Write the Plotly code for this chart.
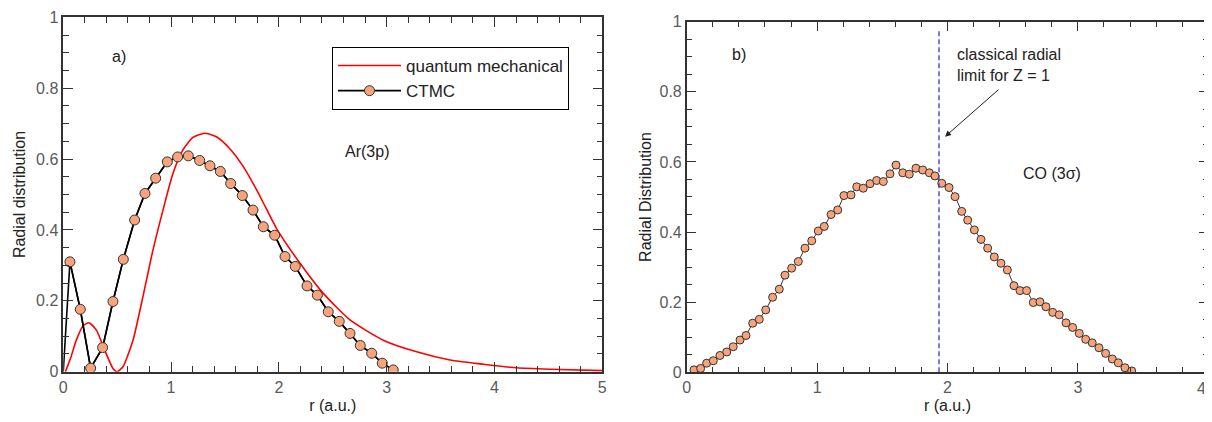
import plotly.graph_objects as go

# ---------------- data: panel a) Ar(3p) ----------------
qm_r = [0.02, 0.07, 0.121, 0.183, 0.238, 0.306, 0.384, 0.461, 0.498, 0.554, 0.647, 0.739,
        0.832, 0.925, 1.018, 1.110, 1.203, 1.312, 1.420, 1.543, 1.667, 1.790, 1.880, 1.980,
        2.196, 2.412, 2.660, 2.968, 3.278, 3.587, 3.896, 4.206, 4.515, 5.0]
qm_p = [0.0, 0.040, 0.089, 0.129, 0.138, 0.118, 0.061, 0.009, 0.0, 0.014, 0.089, 0.212,
        0.343, 0.456, 0.560, 0.626, 0.661, 0.673, 0.663, 0.630, 0.580, 0.515, 0.462, 0.403,
        0.306, 0.221, 0.146, 0.089, 0.056, 0.033, 0.021, 0.011, 0.007, 0.003]

ctmc_r = [0.0, 0.062, 0.158, 0.254, 0.365, 0.461, 0.557, 0.662, 0.758, 0.857, 0.965, 1.061,
          1.160, 1.265, 1.361, 1.457, 1.553, 1.661, 1.760, 1.856, 1.961, 2.057, 2.152, 2.261,
          2.357, 2.458, 2.560, 2.660, 2.755, 2.861, 2.959, 3.061]
ctmc_p = [0.0, 0.310, 0.176, 0.010, 0.068, 0.198, 0.317, 0.428, 0.503, 0.546, 0.592, 0.606,
          0.609, 0.596, 0.581, 0.565, 0.531, 0.497, 0.456, 0.409, 0.385, 0.325, 0.297, 0.242,
          0.216, 0.169, 0.142, 0.108, 0.074, 0.052, 0.024, 0.005]

# ---------------- data: panel b) CO(3sigma) ----------------
co_r = [0.056, 0.107, 0.153, 0.204, 0.255, 0.307, 0.357, 0.409, 0.455, 0.506, 0.557, 0.606,
        0.659, 0.710, 0.754, 0.805, 0.856, 0.907, 0.959, 1.009, 1.055, 1.107, 1.158, 1.206,
        1.260, 1.304, 1.354, 1.406, 1.457, 1.508, 1.559, 1.605, 1.657, 1.707, 1.758, 1.810,
        1.861, 1.904, 1.956, 2.012, 2.058, 2.109, 2.155, 2.206, 2.257, 2.308, 2.359, 2.410,
        2.459, 2.510, 2.556, 2.607, 2.658, 2.709, 2.755, 2.807, 2.857, 2.909, 2.960, 3.011,
        3.060, 3.110, 3.162, 3.213, 3.264, 3.310, 3.361, 3.413]
co_p = [0.007, 0.011, 0.026, 0.033, 0.048, 0.058, 0.073, 0.092, 0.105, 0.140, 0.151, 0.178,
        0.214, 0.237, 0.277, 0.297, 0.316, 0.354, 0.375, 0.403, 0.416, 0.450, 0.463, 0.504,
        0.506, 0.529, 0.525, 0.538, 0.547, 0.544, 0.566, 0.591, 0.569, 0.565, 0.582, 0.577,
        0.569, 0.560, 0.539, 0.527, 0.501, 0.459, 0.434, 0.406, 0.379, 0.354, 0.329, 0.311,
        0.292, 0.247, 0.233, 0.233, 0.199, 0.201, 0.187, 0.171, 0.164, 0.141, 0.128, 0.111,
        0.094, 0.084, 0.070, 0.054, 0.038, 0.027, 0.013, 0.004]

classical_limit_r = 1.935
classical_limit_top = 0.98

x_ticks_a = [0, 1, 2, 3, 4, 5]
x_ticks_b = [0, 1, 2, 3, 4]
x_tick_text_b = ["0", "1", "2", "3", ""]   # last label drawn as an annotation (edge of page)
y_ticks = [0, 0.2, 0.4, 0.6, 0.8, 1]
y_tick_text = ["0", "0.2", "0.4", "0.6", "0.8", "1"]

FONT = "Liberation Sans, Arial, sans-serif"
MARKER_FILL = "#F7A47C"
TXT = "#222222"
TICK_TXT = "#5a5a5a"

fig = go.Figure()

# panel a
fig.add_trace(go.Scatter(x=qm_r, y=qm_p, mode="lines", name="quantum mechanical",
                         line=dict(color="#FF0000", width=1.6, shape="spline", smoothing=0.6),
                         xaxis="x", yaxis="y"))
fig.add_trace(go.Scatter(x=ctmc_r, y=ctmc_p, mode="lines", showlegend=False,
                         line=dict(color="#000000", width=1.6), xaxis="x", yaxis="y"))
fig.add_trace(go.Scatter(x=ctmc_r[1:], y=ctmc_p[1:], mode="lines+markers", name="CTMC",
                         line=dict(color="#000000", width=1.6),
                         marker=dict(size=10, color=MARKER_FILL,
                                     line=dict(color="#333333", width=1)),
                         xaxis="x", yaxis="y"))

# panel b
fig.add_trace(go.Scatter(x=co_r, y=co_p, mode="lines+markers", showlegend=False,
                         line=dict(color="#333333", width=1),
                         marker=dict(size=8, color=MARKER_FILL,
                                     line=dict(color="#333333", width=1)),
                         xaxis="x2", yaxis="y2"))
fig.add_trace(go.Scatter(x=[classical_limit_r, classical_limit_r], y=[0, classical_limit_top],
                         mode="lines", showlegend=False,
                         line=dict(color="#3A3AB0", width=1.3, dash="5px,3px"),
                         xaxis="x2", yaxis="y2"))

axis_common = dict(
    showgrid=False, zeroline=False, showline=True, linecolor="#333333", linewidth=1.5,
    mirror="ticks", ticks="inside", ticklen=10, tickwidth=1.3, tickcolor="#333333",
    automargin=False,
    tickfont=dict(family=FONT, size=16, color=TICK_TXT),
    title_font=dict(family=FONT, size=16, color=TXT),
)
minor_x = dict(dtick=0.2, ticks="inside", ticklen=6, tickcolor="#333333", tickwidth=1.3)
minor_y = dict(dtick=0.05, ticks="inside", ticklen=6, tickcolor="#333333", tickwidth=1.3)

# page body has an 8px margin on every side: keep the figure inside the window
fig.update_layout(
    width=1204, height=406,
    margin=dict(l=0, r=0, t=0, b=0),
    paper_bgcolor="white", plot_bgcolor="white",
    font=dict(family=FONT, size=16, color=TXT),
    xaxis=dict(domain=[0.0459, 0.4936], range=[0, 5], tickvals=x_ticks_a, minor=minor_x,
               title=dict(text="r (a.u.)", standoff=5), anchor="y", **axis_common),
    yaxis=dict(domain=[0.1042, 0.9771], range=[0, 1], tickvals=y_ticks, ticktext=y_tick_text,
               minor=minor_y, title=dict(text="Radial distribution", standoff=6),
               anchor="x", **axis_common),
    xaxis2=dict(domain=[0.5637, 0.9969], range=[0, 4], tickvals=x_ticks_b,
                ticktext=x_tick_text_b, minor=minor_x,
                title=dict(text="r (a.u.)", standoff=5), anchor="y2", **axis_common),
    yaxis2=dict(domain=[0.1027, 0.9663], range=[0, 1], tickvals=y_ticks, ticktext=y_tick_text,
                minor=minor_y, title=dict(text="Radial Distribution", standoff=4),
                anchor="x2", **axis_common),
    legend=dict(x=0.2691, y=0.9039, xanchor="left", yanchor="top",
                bordercolor="#000000", borderwidth=1, bgcolor="white",
                font=dict(family=FONT, size=17, color=TXT),
                itemwidth=63, tracegroupgap=0),
    showlegend=True,
)

ann_font = dict(family=FONT, size=16, color=TXT)
fig.add_annotation(x=x_ticks_b[-1], y=0, xref="x2", yref="y2", yshift=-16,
                   xanchor="right", text=str(x_ticks_b[-1]), showarrow=False,
                   font=dict(family=FONT, size=16, color=TICK_TXT))
fig.add_annotation(x=0.52, y=0.889, xref="x", yref="y", text="a)", showarrow=False, font=ann_font)
fig.add_annotation(x=2.815, y=0.621, xref="x", yref="y", text="Ar(3p)", showarrow=False, font=ann_font)
fig.add_annotation(x=0.40, y=0.905, xref="x2", yref="y2", text="b)", showarrow=False, font=ann_font)
fig.add_annotation(x=2.80, y=0.567, xref="x2", yref="y2", text="CO (3σ)", showarrow=False, font=ann_font)
fig.add_annotation(x=2.06, y=0.935, xref="x2", yref="y2", xanchor="left", yanchor="top",
                   text="classical radial<br>limit for Z = 1", align="left",
                   showarrow=False, font=ann_font)
fig.add_annotation(x=1.981, y=0.672, xref="x2", yref="y2", ax=2.403, ay=0.810,
                   axref="x2", ayref="y2", text="", showarrow=True, arrowhead=2,
                   arrowsize=1.2, arrowwidth=1, arrowcolor=TXT)

fig.write_html("out.html")
